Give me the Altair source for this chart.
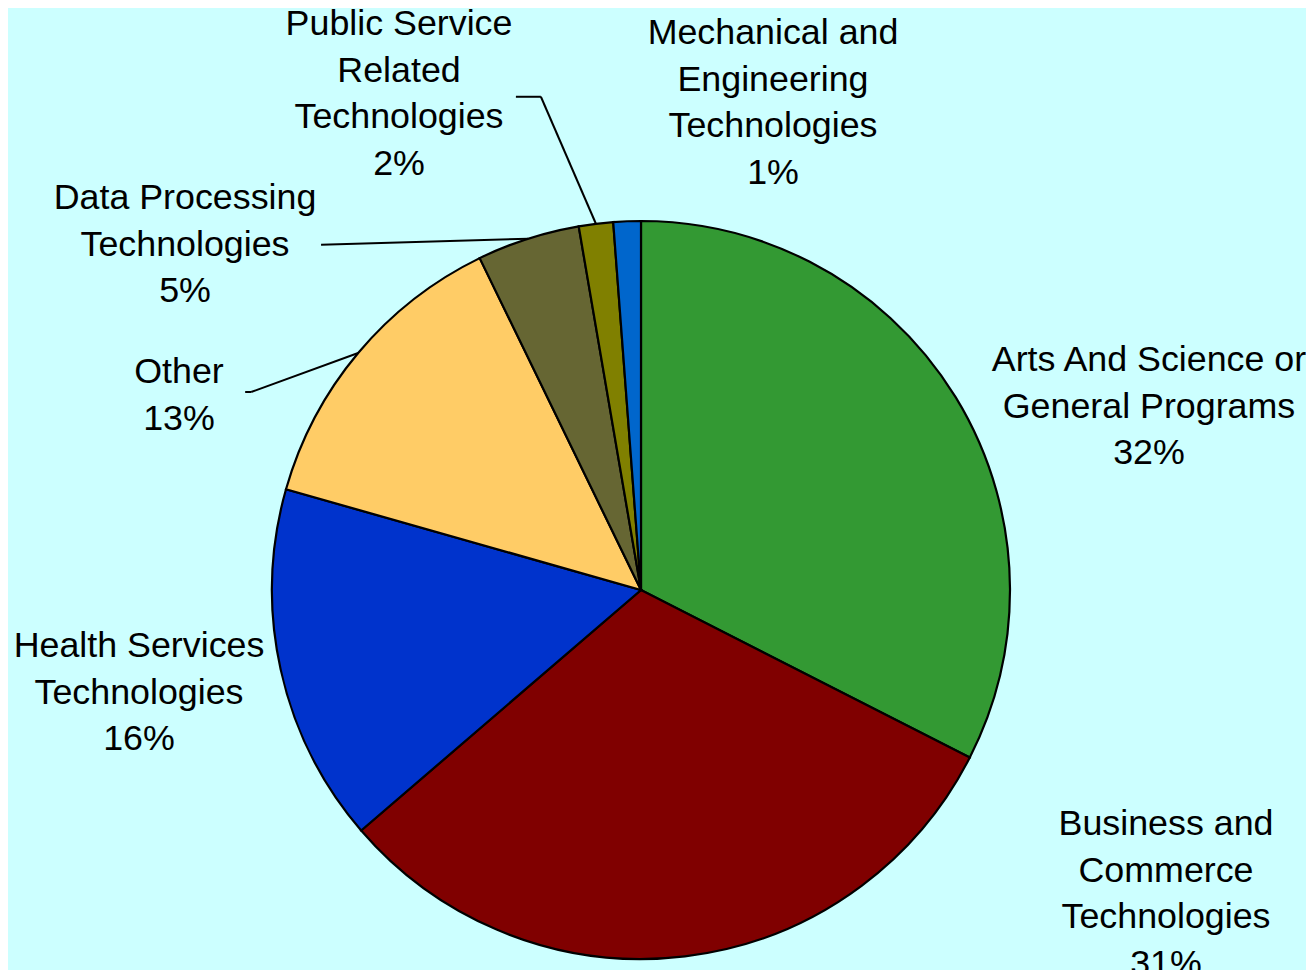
import math
import altair as alt
import pandas as pd

# ---- data ----
categories = [
    "Arts And Science or General Programs",
    "Business and Commerce Technologies",
    "Health Services Technologies",
    "Other",
    "Data Processing Technologies",
    "Public Service Related Technologies",
    "Mechanical and Engineering Technologies",
]
values = [32.5, 31.2, 15.7, 13.4, 4.5, 1.5, 1.2]
pct_labels = ["32%", "31%", "16%", "13%", "5%", "2%", "1%"]
label_lines = [
    ["Arts And Science or", "General Programs"],
    ["Business and", "Commerce", "Technologies"],
    ["Health Services", "Technologies"],
    ["Other"],
    ["Data Processing", "Technologies"],
    ["Public Service", "Related", "Technologies"],
    ["Mechanical and", "Engineering", "Technologies"],
]
colors = ["#339933", "#800000", "#0033CC", "#FFCC66", "#666633", "#808000", "#0066CC"]

df = pd.DataFrame({
    "cat": categories,
    "value": values,
    "order": list(range(len(categories))),
    "label": ["\n".join(l + [p]) for l, p in zip(label_lines, pct_labels)],
})

# ---- layout (style) ----
W, H = 1298, 962
CX, CY, R = 633, 582, 369
FONT = "Liberation Sans"
FS = 35.8
LH = 46.5

# label anchor (first-line baseline, centred) relative to pie centre
label_pos = {
    "Arts And Science or General Programs": (508, -219),
    "Business and Commerce Technologies": (525, 245),
    "Health Services Technologies": (-502, 67),
    "Other": (-462, -207),
    "Data Processing Technologies": (-456, -381),
    "Public Service Related Technologies": (-242, -555),
    "Mechanical and Engineering Technologies": (132, -546),
}
# leader-line segments, offsets relative to the slice's edge point
leaders = {
    "Public Service Related Technologies": [((0, 0), (-55, -127)), ((-55, -127), (-80, -127))],
    "Data Processing Technologies": [((0, 0), (-207, 6))],
    "Other": [((0, 0), (-107, 39)), ((-107, 39), (-113, 39))],
}

base = alt.Chart(df)

pie = base.mark_arc(radius=R, stroke="black", strokeWidth=2.2).encode(
    theta=alt.Theta("value:Q", stack=True),
    color=alt.Color("cat:N", scale=alt.Scale(domain=categories, range=colors), legend=None),
    order=alt.Order("order:Q"),
    x=alt.value(CX),
    y=alt.value(CY),
)

geo = base.transform_joinaggregate(total="sum(value)").transform_window(
    cum="sum(value)", sort=[alt.SortField("order")], frame=[None, 0]
).transform_calculate(
    mid="(datum.cum - datum.value/2) / datum.total * 2 * PI",
    ex=f"{CX} + {R} * sin(datum.mid)",
    ey=f"{CY} - {R} * cos(datum.mid)",
)

layers = [pie]

for cat, segs in leaders.items():
    for (a, b) in segs:
        layers.append(
            geo.transform_filter(alt.datum.cat == cat).transform_calculate(
                x1=f"datum.ex + ({a[0]})", y1=f"datum.ey + ({a[1]})",
                x2=f"datum.ex + ({b[0]})", y2=f"datum.ey + ({b[1]})",
            ).mark_rule(color="black", strokeWidth=2).encode(
                x=alt.X("x1:Q", scale=None), y=alt.Y("y1:Q", scale=None),
                x2="x2:Q", y2="y2:Q",
            )
        )

for cat in categories:
    lx, ly = label_pos[cat]
    layers.append(
        geo.transform_filter(alt.datum.cat == cat).transform_calculate(
            lx=f"{CX} + ({lx})", ly=f"{CY} + ({ly})",
        ).mark_text(
            font=FONT, fontSize=FS, lineBreak="\n", lineHeight=LH,
            align="center", baseline="alphabetic", color="black",
        ).encode(
            x=alt.X("lx:Q", scale=None), y=alt.Y("ly:Q", scale=None),
            text="label:N",
        )
    )

chart = alt.layer(*layers).properties(
    width=W, height=H, padding=0, autosize=alt.AutoSizeParams(type="none"),
    background="#CCFFFF",
).configure_view(stroke=None)

chart.save("out.html", embed_options={"renderer": "svg", "actions": False})
